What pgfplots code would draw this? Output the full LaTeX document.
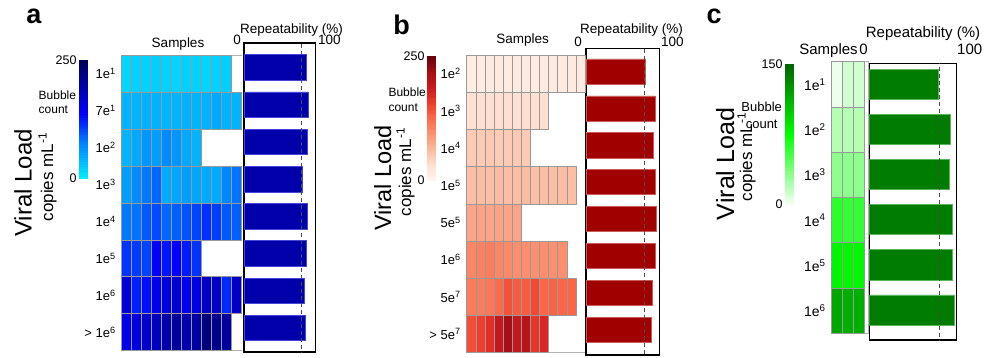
\documentclass[border=0pt]{standalone}
\usepackage{fontspec}
\setmainfont{Liberation Sans}
\usepackage{pgfplots}
\pgfplotsset{compat=1.18}

\pgfdeclareplotmark{cellA}{\pgfpathrectangle{\pgfqpoint{-5pt}{-18.48pt}}{\pgfqpoint{10pt}{36.96pt}}\pgfusepathqfillstroke}
\pgfdeclareplotmark{cellB}{\pgfpathrectangle{\pgfqpoint{-4.55pt}{-18.6pt}}{\pgfqpoint{9.1pt}{37.21pt}}\pgfusepathqfillstroke}
\pgfdeclareplotmark{cellC}{\pgfpathrectangle{\pgfqpoint{-5.5pt}{-22.63pt}}{\pgfqpoint{11pt}{45.27pt}}\pgfusepathqfillstroke}
\pgfdeclareplotmark{cellCp}{\pgfpathrectangle{\pgfqpoint{-5.5pt}{-22.63pt}}{\pgfqpoint{3.6pt}{45.27pt}}\pgfusepathqfillstroke}
\pgfdeclareplotmark{cbA}{\pgfpathrectangle{\pgfqpoint{-4pt}{-1.2pt}}{\pgfqpoint{8pt}{2.4pt}}\pgfusepathqfillstroke}
\pgfdeclareplotmark{cbB}{\pgfpathrectangle{\pgfqpoint{-4pt}{-1.26pt}}{\pgfqpoint{8pt}{2.52pt}}\pgfusepathqfillstroke}
\pgfdeclareplotmark{cbC}{\pgfpathrectangle{\pgfqpoint{-4pt}{-1.42pt}}{\pgfqpoint{8pt}{2.84pt}}\pgfusepathqfillstroke}

\definecolor{barA}{RGB}{0,0,170}
\definecolor{barAedge}{RGB}{70,70,220}
\definecolor{barB}{RGB}{160,0,0}
\definecolor{barBedge}{RGB}{205,90,90}
\definecolor{barC}{RGB}{0,125,0}
\definecolor{barCedge}{RGB}{90,180,90}
\definecolor{refgray}{RGB}{77,77,77}

\pgfplotsset{
  colormap={mapA}{rgb255(0cm)=(0,240,255); rgb255(6cm)=(0,130,255); rgb255(11cm)=(0,0,255); rgb255(20cm)=(0,0,90)},
  colormap={mapB}{rgb255(0cm)=(255,245,240); rgb255(1cm)=(254,224,210); rgb255(2cm)=(252,187,161); rgb255(3cm)=(252,146,114); rgb255(4cm)=(251,106,74); rgb255(5cm)=(239,59,44); rgb255(6cm)=(203,24,29); rgb255(7cm)=(165,15,21); rgb255(8cm)=(103,0,13)},
  colormap={mapC}{rgb255(0cm)=(245,255,245); rgb255(1cm)=(0,255,0); rgb255(2cm)=(0,100,0)},
  myheatax/.style={scale only axis, anchor=north west, y dir=reverse, xtick=\empty,
    major tick length=0pt, axis line style={draw=black!30, line width=0.8pt},
    ymin=0.5, yticklabel style={xshift=-2.5pt}},
  mybarax/.style={scale only axis, anchor=north west, y dir=reverse, xmin=0, xmax=100,
    xtick=\empty, ytick=\empty, axis line style={black, line width=1.1pt}},
  mycbax/.style={scale only axis, anchor=north west, width=8pt, xmin=0, xmax=1,
    xtick=\empty, major tick length=0pt, axis on top,
    axis line style={draw=black!35, line width=0.6pt},
    yticklabel style={font=\fontsize{12.5}{13}\selectfont, xshift=1pt}},
}

\begin{document}
\begin{tikzpicture}
\path[use as bounding box] (0,0) rectangle (984pt,-358pt);

% ---------------- bar charts ----------------
\begin{axis}[mybarax, at={(244pt,-43pt)}, width=71.5pt, height=309pt, ymin=0.341, ymax=8.645]
\addplot[xbar, bar width=0.686, fill=barA, draw=barAedge, line width=0.7pt]
  coordinates {(86.7,1) (89.9,2) (88.5,3) (82.1,4) (88.5,5) (87.7,6) (83.9,7) (85.3,8)};
\addplot[refgray, dash pattern=on 4pt off 3pt, line width=0.8pt] coordinates {(80,0) (80,9)};
\end{axis}

\begin{axis}[mybarax, at={(586pt,-48.3pt)}, width=73.3pt, height=306.7pt, ymin=0.371, ymax=8.683]
\addplot[xbar, bar width=0.68, fill=barB, draw=barBedge, line width=0.7pt]
  coordinates {(80.9,1) (94.1,2) (91.8,3) (95.1,4) (95.5,5) (94.5,6) (90.5,7) (88.7,8)};
\addplot[refgray, dash pattern=on 4pt off 3pt, line width=0.8pt] coordinates {(80,0) (80,9)};
\end{axis}

\begin{axis}[mybarax, at={(869.3pt,-63.3pt)}, width=87.4pt, height=276.7pt, ymin=0.535, ymax=6.665]
\addplot[xbar, bar width=0.665, fill=barC, draw=barCedge, line width=0.7pt]
  coordinates {(79.3,1) (92.7,2) (91.9,3) (95.0,4) (95.0,5) (97.3,6)};
\addplot[refgray, dash pattern=on 4pt off 3pt, line width=0.8pt] coordinates {(80,0) (80,7)};
\end{axis}

% ---------------- colorbars ----------------
\begin{axis}[mycbax, at={(79pt,-60pt)}, height=118pt, ymin=0, ymax=250,
  ytick={0,250}, yticklabels={0,250}, colormap name=mapA, point meta min=0, point meta max=250]
\addplot[scatter, only marks, mark=cbA, line width=0.3pt, point meta=y,
  scatter/use mapped color={draw=mapped color, fill=mapped color}]
  coordinates {(0.5,2.5) (0.5,7.5) (0.5,12.5) (0.5,17.5) (0.5,22.5) (0.5,27.5) (0.5,32.5) (0.5,37.5) (0.5,42.5) (0.5,47.5) (0.5,52.5) (0.5,57.5) (0.5,62.5) (0.5,67.5) (0.5,72.5) (0.5,77.5) (0.5,82.5) (0.5,87.5) (0.5,92.5) (0.5,97.5) (0.5,102.5) (0.5,107.5) (0.5,112.5) (0.5,117.5) (0.5,122.5) (0.5,127.5) (0.5,132.5) (0.5,137.5) (0.5,142.5) (0.5,147.5) (0.5,152.5) (0.5,157.5) (0.5,162.5) (0.5,167.5) (0.5,172.5) (0.5,177.5) (0.5,182.5) (0.5,187.5) (0.5,192.5) (0.5,197.5) (0.5,202.5) (0.5,207.5) (0.5,212.5) (0.5,217.5) (0.5,222.5) (0.5,227.5) (0.5,232.5) (0.5,237.5) (0.5,242.5) (0.5,247.5)};
\end{axis}
\begin{axis}[mycbax, at={(427pt,-56pt)}, height=124pt, ymin=0, ymax=250,
  ytick={0,250}, yticklabels={0,250}, colormap name=mapB, point meta min=0, point meta max=250]
\addplot[scatter, only marks, mark=cbB, line width=0.3pt, point meta=y,
  scatter/use mapped color={draw=mapped color, fill=mapped color}]
  coordinates {(0.5,2.5) (0.5,7.5) (0.5,12.5) (0.5,17.5) (0.5,22.5) (0.5,27.5) (0.5,32.5) (0.5,37.5) (0.5,42.5) (0.5,47.5) (0.5,52.5) (0.5,57.5) (0.5,62.5) (0.5,67.5) (0.5,72.5) (0.5,77.5) (0.5,82.5) (0.5,87.5) (0.5,92.5) (0.5,97.5) (0.5,102.5) (0.5,107.5) (0.5,112.5) (0.5,117.5) (0.5,122.5) (0.5,127.5) (0.5,132.5) (0.5,137.5) (0.5,142.5) (0.5,147.5) (0.5,152.5) (0.5,157.5) (0.5,162.5) (0.5,167.5) (0.5,172.5) (0.5,177.5) (0.5,182.5) (0.5,187.5) (0.5,192.5) (0.5,197.5) (0.5,202.5) (0.5,207.5) (0.5,212.5) (0.5,217.5) (0.5,222.5) (0.5,227.5) (0.5,232.5) (0.5,237.5) (0.5,242.5) (0.5,247.5)};
\end{axis}
\begin{axis}[mycbax, at={(785pt,-64pt)}, height=140pt, ymin=0, ymax=150,
  ytick={0,150}, yticklabels={0,150}, colormap name=mapC, point meta min=0, point meta max=150]
\addplot[scatter, only marks, mark=cbC, line width=0.3pt, point meta=y,
  scatter/use mapped color={draw=mapped color, fill=mapped color}]
  coordinates {(0.5,1.5) (0.5,4.5) (0.5,7.5) (0.5,10.5) (0.5,13.5) (0.5,16.5) (0.5,19.5) (0.5,22.5) (0.5,25.5) (0.5,28.5) (0.5,31.5) (0.5,34.5) (0.5,37.5) (0.5,40.5) (0.5,43.5) (0.5,46.5) (0.5,49.5) (0.5,52.5) (0.5,55.5) (0.5,58.5) (0.5,61.5) (0.5,64.5) (0.5,67.5) (0.5,70.5) (0.5,73.5) (0.5,76.5) (0.5,79.5) (0.5,82.5) (0.5,85.5) (0.5,88.5) (0.5,91.5) (0.5,94.5) (0.5,97.5) (0.5,100.5) (0.5,103.5) (0.5,106.5) (0.5,109.5) (0.5,112.5) (0.5,115.5) (0.5,118.5) (0.5,121.5) (0.5,124.5) (0.5,127.5) (0.5,130.5) (0.5,133.5) (0.5,136.5) (0.5,139.5) (0.5,142.5) (0.5,145.5) (0.5,148.5)};
\end{axis}

% ---------------- heatmap a ----------------
\begin{axis}[myheatax, at={(121.7pt,-55pt)}, width=120pt, height=295.7pt,
  xmin=0.5, xmax=12.5, ymax=8.5,
  axis x line*=box, axis y line*=left,
  ytick={1,...,8},
  yticklabels={{1e\textsuperscript{1}},{7e\textsuperscript{1}},{1e\textsuperscript{2}},{1e\textsuperscript{3}},{1e\textsuperscript{4}},{1e\textsuperscript{5}},{1e\textsuperscript{6}},{> 1e\textsuperscript{6}}},
  yticklabel style={font=\fontsize{13}{14}\selectfont},
  colormap name=mapA, point meta min=0, point meta max=250]
\addplot[scatter, only marks, mark=cellA, line width=0.6pt, point meta=explicit,
  scatter/use mapped color={draw=black!40, fill=mapped color}] table[x=x, y=y, meta=v] {
x y v
1 1 17
2 1 20
3 1 20
4 1 22
5 1 20
6 1 18
7 1 21
8 1 20
9 1 18
10 1 20
11 1 22
1 2 40
2 2 40
3 2 42
4 2 42
5 2 40
6 2 40
7 2 42
8 2 40
9 2 42
10 2 47
11 2 40
12 2 40
1 3 41
2 3 48
3 3 61
4 3 55
5 3 68
6 3 61
7 3 48
8 3 41
1 4 55
2 4 68
3 4 80
4 4 88
5 4 48
6 4 50
7 4 55
8 4 50
9 4 48
10 4 48
11 4 72
12 4 82
1 5 80
2 5 82
3 5 95
4 5 102
5 5 88
6 5 92
7 5 98
8 5 105
9 5 115
10 5 108
11 5 95
12 5 92
1 6 113
2 6 110
3 6 105
4 6 137
5 6 128
6 6 140
7 6 125
8 6 113
1 7 163
2 7 122
3 7 130
4 7 148
5 7 160
6 7 168
7 7 148
8 7 155
9 7 180
10 7 175
11 7 118
12 7 175
1 8 150
2 8 160
3 8 172
4 8 180
5 8 195
6 8 205
7 8 192
8 8 200
9 8 225
10 8 215
11 8 205
};
\end{axis}

% ---------------- heatmap b ----------------
\begin{axis}[myheatax, at={(466.7pt,-55pt)}, width=118.3pt, height=297.7pt,
  xmin=0.5, xmax=13.5, ymax=8.5,
  axis x line*=box, axis y line*=left,
  ytick={1,...,8},
  yticklabels={{1e\textsuperscript{2}},{1e\textsuperscript{3}},{1e\textsuperscript{4}},{1e\textsuperscript{5}},{5e\textsuperscript{5}},{1e\textsuperscript{6}},{5e\textsuperscript{7}},{> 5e\textsuperscript{7}}},
  yticklabel style={font=\fontsize{13}{14}\selectfont},
  colormap name=mapB, point meta min=0, point meta max=250]
\addplot[scatter, only marks, mark=cellB, line width=0.6pt, point meta=explicit,
  scatter/use mapped color={draw=black!40, fill=mapped color}] table[x=x, y=y, meta=v] {
x y v
1 1 14
2 1 15
3 1 16
4 1 16
5 1 15
6 1 16
7 1 16
8 1 15
9 1 16
10 1 16
11 1 17
12 1 16
13 1 16
1 2 30
2 2 31
3 2 31
4 2 32
5 2 31
6 2 30
7 2 32
8 2 31
9 2 31
1 3 50
2 3 50
3 3 51
4 3 50
5 3 50
6 3 51
7 3 50
1 4 60
2 4 61
3 4 60
4 4 62
5 4 60
6 4 61
7 4 62
8 4 60
9 4 61
10 4 60
11 4 61
12 4 60
1 5 80
2 5 82
3 5 80
4 5 81
5 5 80
6 5 80
1 6 104
2 6 108
3 6 110
4 6 104
5 6 100
6 6 98
7 6 98
8 6 96
9 6 97
10 6 96
11 6 96
1 7 112
2 7 112
3 7 115
4 7 125
5 7 142
6 7 135
7 7 135
8 7 148
9 7 128
10 7 130
11 7 128
12 7 128
1 8 145
2 8 155
3 8 168
4 8 192
5 8 218
6 8 192
7 8 205
8 8 162
9 8 175
};
\end{axis}

% ---------------- heatmap c ----------------
\begin{axis}[myheatax, at={(831.7pt,-61.7pt)}, width=36.6pt, height=271.6pt,
  xmin=0.5, xmax=3.83, ymax=6.5,
  ytick={1,...,6},
  yticklabels={{1e\textsuperscript{1}},{1e\textsuperscript{2}},{1e\textsuperscript{3}},{1e\textsuperscript{4}},{1e\textsuperscript{5}},{1e\textsuperscript{6}}},
  yticklabel style={font=\fontsize{14}{15}\selectfont},
  colormap name=mapC, point meta min=0, point meta max=150]
\addplot[scatter, only marks, mark=cellC, line width=0.6pt, point meta=explicit,
  scatter/use mapped color={draw=black!40, fill=mapped color}] table[x=x, y=y, meta=v] {
x y v
1 1 3
2 1 11
3 1 11
1 2 20
2 2 20
3 2 20
1 3 32
2 3 32
3 3 32
1 4 62
2 4 60
3 4 60
1 5 80
2 5 78
3 5 78
1 6 118
2 6 114
3 6 114
};
\addplot[scatter, only marks, mark=cellCp, line width=0.6pt, point meta=explicit,
  scatter/use mapped color={draw=black!40, fill=mapped color}] table[x=x, y=y, meta=v] {
x y v
4 1 11
4 2 20
4 3 32
4 4 60
4 5 78
4 6 114
};
\end{axis}

% ---------------- texts ----------------
\begin{scope}[every node/.style={inner sep=0pt}]
\def\fa{\fontsize{13.5}{15}\selectfont}
\def\fc{\fontsize{15}{17}\selectfont}
\def\fb{\fontsize{12}{13}\selectfont}
% a
\node[anchor=base, font=\bfseries\fontsize{27}{27}\selectfont] at (34pt,-24pt) {a};
\node[rotate=90, anchor=base, font=\fontsize{24}{24}\selectfont] at (31.5pt,-183pt) {Viral Load};
\node[rotate=90, anchor=base, font=\fontsize{17}{17}\selectfont] at (53pt,-177pt) {copies mL\textsuperscript{-1}};
\node[anchor=base west, font=\fb] at (38.5pt,-100pt) {Bubble};
\node[anchor=base west, font=\fb] at (38.5pt,-113.5pt) {count};
\node[anchor=base, font=\fa] at (178pt,-48pt) {Samples};
\node[anchor=base, font=\fa] at (291.5pt,-33.3pt) {Repeatability (\%)};
\node[anchor=base east, font=\fa] at (241pt,-45pt) {0};
\node[anchor=base west, font=\fa] at (318pt,-45pt) {100};
% b
\node[anchor=base, font=\bfseries\fontsize{27}{27}\selectfont] at (401.7pt,-35pt) {b};
\node[rotate=90, anchor=base, font=\fontsize{23.5}{24}\selectfont] at (391pt,-178pt) {Viral Load};
\node[rotate=90, anchor=base, font=\fontsize{17}{17}\selectfont] at (411pt,-172pt) {copies mL\textsuperscript{-1}};
\node[anchor=base west, font=\fb] at (388.3pt,-96.7pt) {Bubble};
\node[anchor=base west, font=\fb] at (388.3pt,-111.7pt) {count};
\node[anchor=base, font=\fa] at (522.7pt,-43.3pt) {Samples};
\node[anchor=base, font=\fa] at (631.5pt,-34pt) {Repeatability (\%)};
\node[anchor=base east, font=\fa] at (582pt,-46.7pt) {0};
\node[anchor=base west, font=\fa] at (661pt,-46.7pt) {100};
% c
\node[anchor=base, font=\bfseries\fontsize{27}{27}\selectfont] at (714pt,-23.3pt) {c};
\node[rotate=90, anchor=base, font=\fontsize{25}{25}\selectfont] at (734pt,-164pt) {Viral Load};
\node[rotate=90, anchor=base, font=\fontsize{17}{17}\selectfont] at (752pt,-157pt) {copies mL\textsuperscript{-1}};
\node[anchor=base, font=\fontsize{13}{14}\selectfont] at (761.7pt,-111.7pt) {Bubble};
\node[anchor=base, font=\fontsize{13}{14}\selectfont] at (761.7pt,-128.3pt) {count};
\node[anchor=base, font=\fc] at (828.5pt,-54.5pt) {Samples};
\node[anchor=base east, font=\fc] at (868pt,-54.5pt) {0};
\node[anchor=base, font=\fc] at (923pt,-37.7pt) {Repeatability (\%)};
\node[anchor=base west, font=\fc] at (957pt,-55pt) {100};
\end{scope}
\end{tikzpicture}
\end{document}
